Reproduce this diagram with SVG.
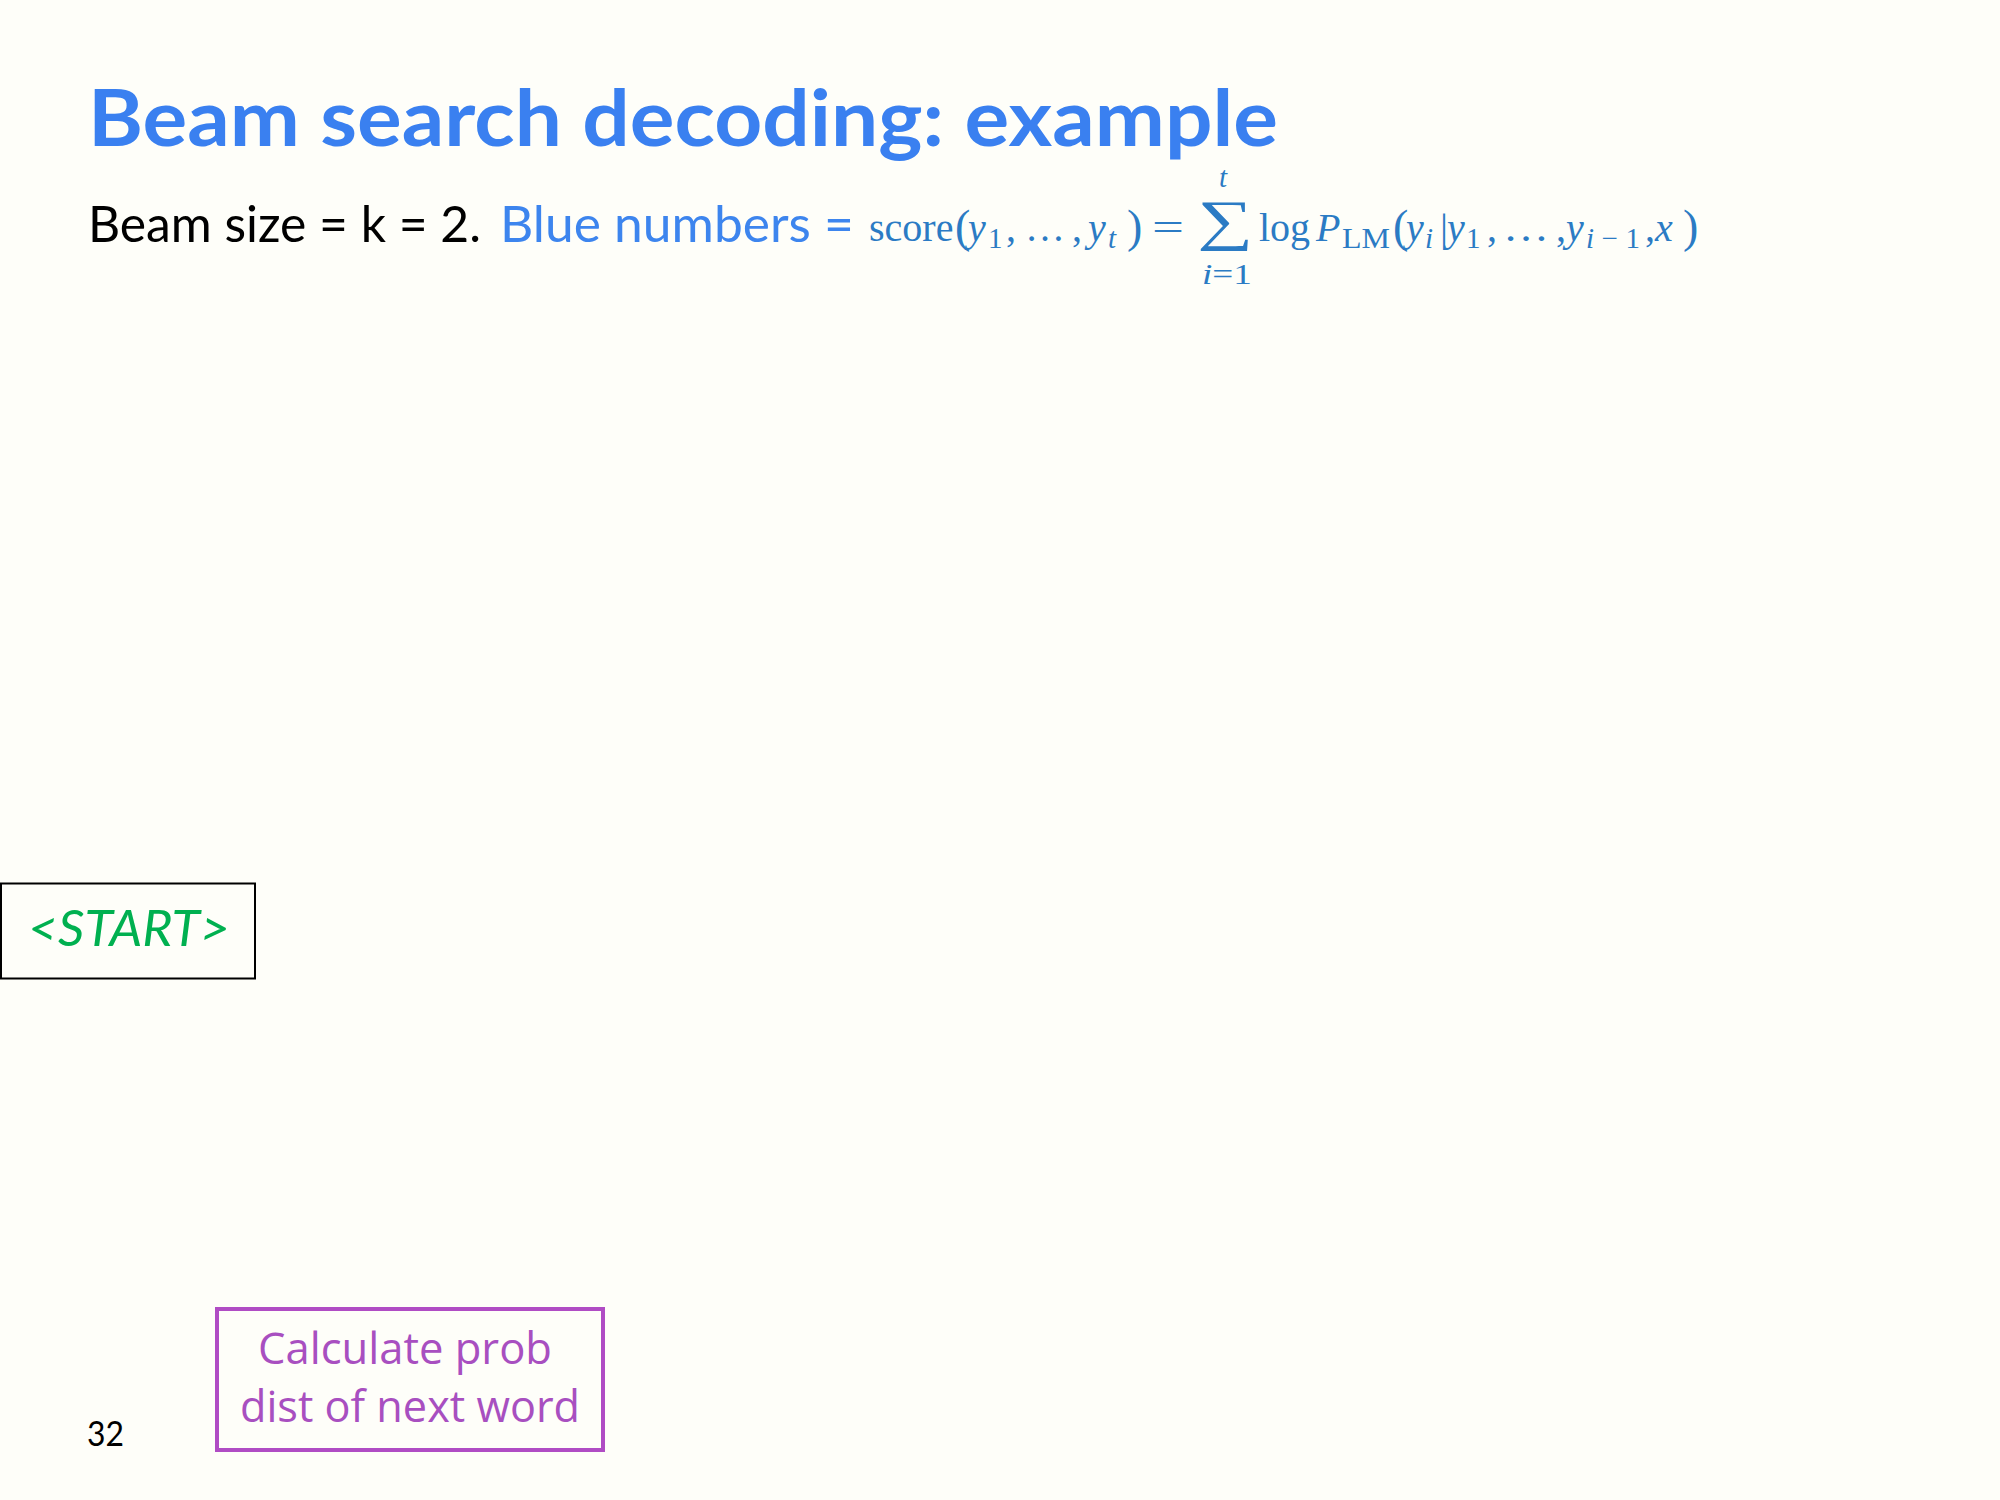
<svg xmlns="http://www.w3.org/2000/svg" width="2000" height="1500" viewBox="0 0 2000 1500">
<style>
.sans{font-family:Lato,"Open Sans","Liberation Sans",sans-serif}
.title{font-weight:700;font-size:78px;fill:#3A80F0}
.sub{font-size:50px}
.math{font-family:"Liberation Serif","DejaVu Serif",serif;font-size:40px;fill:#2B7BC4}
.mi{font-style:italic}
.sm{font-size:29px}
.par{font-size:46px}
.calc{font-family:"Open Sans","Liberation Sans",sans-serif;font-size:43px;fill:#A84FC0}
</style>
<rect x="0" y="0" width="2000" height="1500" fill="#FEFEF9"/>
<g id="title">
<text class="sans title" x="88" y="146" textLength="1190" lengthAdjust="spacingAndGlyphs">Beam search decoding: example</text>
</g>
<g id="subtitle">
<text class="sans sub" x="88" y="242" fill="#000" textLength="393" lengthAdjust="spacingAndGlyphs">Beam size = k = 2.</text>
<text class="sans sub" x="500" y="242" fill="#3D85EE" textLength="354" lengthAdjust="spacingAndGlyphs">Blue numbers =</text>
</g>
<g id="formula">
<text class="math"><tspan x="869" y="241">score</tspan><tspan class="par" x="955" y="242">(</tspan><tspan class="mi" x="968" y="241">y</tspan><tspan class="sm" x="988" y="248">1</tspan><tspan x="1006" y="241">,</tspan><tspan x="1025" y="241">…</tspan><tspan x="1072" y="241">,</tspan><tspan class="mi" x="1088" y="241">y</tspan><tspan class="mi sm" x="1108" y="248">t</tspan><tspan class="par" x="1127" y="242">)</tspan><tspan x="1152" y="241" textLength="32" lengthAdjust="spacingAndGlyphs">=</tspan><tspan x="1197" y="239" font-size="56" textLength="56" lengthAdjust="spacingAndGlyphs">∑</tspan><tspan class="mi sm" x="1219" y="187">t</tspan><tspan class="sm" x="1202" y="284" textLength="50" lengthAdjust="spacingAndGlyphs"><tspan font-style="italic">i</tspan>=1</tspan><tspan x="1259" y="241">log</tspan><tspan class="mi" x="1316" y="241">P</tspan><tspan class="sm" x="1342" y="248" textLength="48" lengthAdjust="spacingAndGlyphs">LM</tspan><tspan class="par" x="1393" y="242">(</tspan><tspan class="mi" x="1406" y="241">y</tspan><tspan class="mi sm" x="1425" y="248">i</tspan><tspan x="1440" y="241">|</tspan><tspan class="mi" x="1447" y="241">y</tspan><tspan class="sm" x="1466" y="248">1</tspan><tspan x="1487" y="241">,</tspan><tspan x="1503" y="241" textLength="46" lengthAdjust="spacingAndGlyphs">…</tspan><tspan x="1556" y="241">,</tspan><tspan class="mi" x="1566" y="241">y</tspan><tspan class="sm" x="1586" y="248" textLength="54" lengthAdjust="spacing"><tspan font-style="italic">i</tspan>−1</tspan><tspan x="1645" y="241">,</tspan><tspan class="mi" x="1655" y="241">x</tspan><tspan class="par" x="1683" y="242">)</tspan></text>
</g>
<g id="start">
<rect x="1" y="883.5" width="254" height="95" fill="none" stroke="#000" stroke-width="2"/>
<text class="sans" x="28" y="946" font-size="50" font-style="italic" fill="#00B050" textLength="202" lengthAdjust="spacingAndGlyphs">&lt;START&gt;</text>
</g>
<g id="calc">
<rect x="217" y="1309" width="386" height="141" fill="none" stroke="#B04CC4" stroke-width="4"/>
<text class="calc" x="258" y="1364" textLength="294" lengthAdjust="spacingAndGlyphs">Calculate prob</text>
<text class="calc" x="240" y="1422" textLength="340" lengthAdjust="spacingAndGlyphs">dist of next word</text>
</g>
<g id="page">
<text class="sans" x="87" y="1446" font-size="34" fill="#000" textLength="37" lengthAdjust="spacingAndGlyphs">32</text>
</g>
<g id="connectors"/>
</svg>
